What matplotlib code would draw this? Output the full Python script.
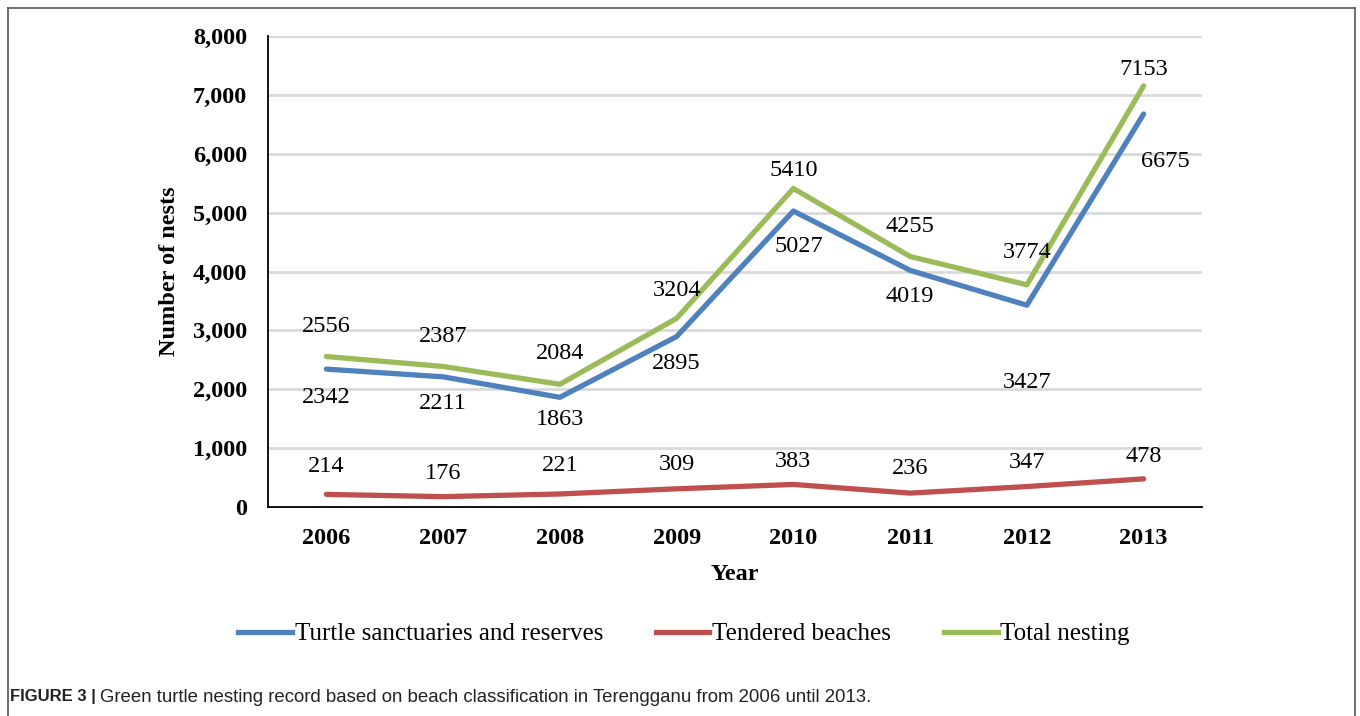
import matplotlib
matplotlib.use("Agg")
import matplotlib.pyplot as plt
from matplotlib.lines import Line2D

years = ["2006", "2007", "2008", "2009", "2010", "2011", "2012", "2013"]
sanctuaries = [2342, 2211, 1863, 2895, 5027, 4019, 3427, 6675]
tendered = [214, 176, 221, 309, 383, 236, 347, 478]
total = [2556, 2387, 2084, 3204, 5410, 4255, 3774, 7153]
series_names = ["Turtle sanctuaries and reserves", "Tendered beaches", "Total nesting"]
yticks = [0, 1000, 2000, 3000, 4000, 5000, 6000, 7000, 8000]

colors = ["#4F81BD", "#C0504D", "#9BBB59"]
serif = "Liberation Serif"

# label offsets in pixels (dx, dy) — style, not data
off_blue = [(0, -28), (0, -27), (0, -22), (0, -27), (5, -35), (0, -26), (0, -77), (22, -47)]
off_red = [(0, 28), (0, 23), (0, 28), (0, 24), (0, 23), (0, 25), (0, 24), (0, 22)]
off_green = [(0, 30), (0, 30), (0, 31), (0, 28), (0, 18), (0, 30), (0, 32), (0, 16)]

fig = plt.figure(figsize=(13.6, 7.16), dpi=100)
ax = fig.add_axes([268 / 1360, 1 - 507 / 716, (1202 - 268) / 1360, (507 - 36) / 716])

x = list(range(len(years)))
lw = 3.8
ax.plot(x, sanctuaries, color=colors[0], lw=lw, solid_capstyle="round", zorder=3)
ax.plot(x, tendered, color=colors[1], lw=lw, solid_capstyle="round", zorder=3)
ax.plot(x, total, color=colors[2], lw=lw, solid_capstyle="round", zorder=3)

for vals, offs in ((sanctuaries, off_blue), (tendered, off_red), (total, off_green)):
    for xi, v, (dx, dy) in zip(x, vals, offs):
        ax.annotate(str(v), (xi, v), xytext=(dx, dy), textcoords="offset pixels",
                    ha="center", va="center", fontsize=17.5, family=serif, color="black", zorder=4)

ax.set_xlim(-0.5, 7.5)
ax.set_ylim(0, 8000)
ax.set_yticks(yticks)
ax.set_yticklabels([f"{t:,}" for t in yticks])
ax.set_xticks(x)
ax.set_xticklabels(years)
ax.tick_params(axis="both", length=0, labelsize=17.5)
ax.tick_params(axis="y", pad=15)
ax.tick_params(axis="x", pad=15)
for lab in ax.get_xticklabels() + ax.get_yticklabels():
    lab.set_fontfamily(serif)
    lab.set_fontweight("bold")
ax.yaxis.grid(True, color="#D9D9D9", lw=2)
ax.set_axisbelow(True)
for s in ["top", "right"]:
    ax.spines[s].set_visible(False)
for s in ["left", "bottom"]:
    ax.spines[s].set_color("black")
    ax.spines[s].set_linewidth(1.3)

ax.set_ylabel("Number of nests", fontsize=17.5, family=serif, fontweight="bold", labelpad=9)
ax.set_xlabel("Year", fontsize=17.5, family=serif, fontweight="bold", labelpad=11)

handles = [Line2D([], [], color=c, lw=lw) for c in colors]
fig.legend(handles, series_names, loc="center", bbox_to_anchor=(684 / 1360, 1 - 634 / 716),
           ncol=3, frameon=False, prop={"family": serif, "size": 18},
           handlelength=2.15, handletextpad=0.12, columnspacing=2.1)

# figure border
bc = "#555555"
fig.add_artist(Line2D([8 / 1360, 8 / 1360], [0, 1 - 8 / 716], color=bc, lw=1.2, transform=fig.transFigure))
fig.add_artist(Line2D([8 / 1360, 1355 / 1360], [1 - 8 / 716, 1 - 8 / 716], color=bc, lw=1.2, transform=fig.transFigure))
fig.add_artist(Line2D([1355 / 1360, 1355 / 1360], [0, 1 - 8 / 716], color=bc, lw=1.2, transform=fig.transFigure))

fig.text(10 / 1360, 1 - 697 / 716, "FIGURE 3 |", fontsize=12, family="Liberation Sans",
         fontweight="bold", va="center", ha="left", color="#222222")
fig.text(100 / 1360, 1 - 697 / 716,
         "Green turtle nesting record based on beach classification in Terengganu from 2006 until 2013.",
         fontsize=13.4, family="Liberation Sans", va="center", ha="left", color="#222222")

fig.savefig("out.png", dpi=100)
